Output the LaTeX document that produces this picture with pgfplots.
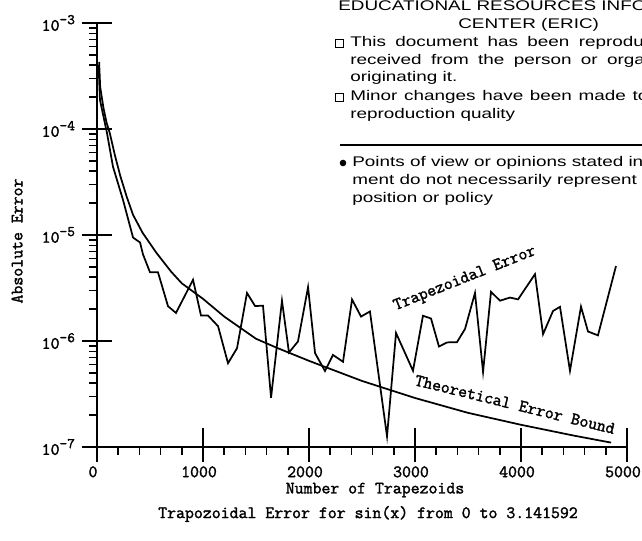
\documentclass[border=0pt]{standalone}
\usepackage{fontspec}
\usepackage{pgfplots}
\pgfplotsset{compat=1.18}
\newfontfamily\plotfont[FakeBold=1.8]{Latin Modern Mono}
\newfontfamily\ericfont[FakeStretch=1.35]{Liberation Sans}
\newcommand{\pf}{\plotfont\fontsize{13}{15}\selectfont}
\newcommand{\ef}{\ericfont\fontsize{10.5}{13}\selectfont}
\newcommand{\tl}[1]{\mbox{\pf #1}}
\newcommand{\dec}[1]{\mbox{\pf 10\raisebox{5pt}{\plotfont\fontsize{11}{11}\selectfont -#1}}}
\begin{document}
\begin{tikzpicture}
\begin{axis}[
  at={(72.75pt,70.5pt)}, anchor=south west,
  scale only axis, width=397.5pt, height=318pt,
  xmin=0, xmax=5000, ymin=1e-7, ymax=1e-3, ymode=log,
  axis x line=bottom, axis y line=left,
  axis line style={-, line width=1.3pt},
  tick style={black, line width=1.1pt},
  tick align=outside,
  major tick length=11pt, minor tick length=6pt,
  xtick={0,1000,2000,3000,4000,5000},
  xticklabels={\tl{0},\tl{1000},\tl{2000},\tl{3000},\tl{4000},\tl{5000}},
  minor xtick={200,400,600,800,1200,1400,1600,1800,2200,2400,2600,2800,3200,3400,3600,3800,4200,4400,4600,4800},
  ytick={1e-7,1e-6,1e-5,1e-4,1e-3},
  yticklabels={\dec{7},\dec{6},\dec{5},\dec{4},\dec{3}},
  minor ytick={2e-7,3e-7,4e-7,5e-7,6e-7,7e-7,8e-7,9e-7,2e-6,3e-6,4e-6,5e-6,6e-6,7e-6,8e-6,9e-6,2e-5,3e-5,4e-5,5e-5,6e-5,7e-5,8e-5,9e-5,2e-4,3e-4,4e-4,5e-4,6e-4,7e-4,8e-4,9e-4},
  extra x ticks={1000,2000,3000,4000,5000},
  extra x tick labels={},
  extra x tick style={tick align=inside, major tick length=14pt},
  extra y ticks={1e-7,1e-6,1e-5,1e-4,1e-3},
  extra y tick labels={},
  extra y tick style={tick align=inside, major tick length=11pt},
  tick label style={font=\pf},
  xticklabel style={xshift=-3pt},
  yticklabel style={xshift=-2pt},
  clip=false,
]
\addplot[black, line width=1.3pt, mark=none] coordinates {
(20,4.3e-4) (30,2.5e-4) (60,1.6e-4) (90,1.15e-4) (120,9.2e-5) (170,5.6e-5)
(220,3.6e-5) (280,2.3e-5) (340,1.55e-5) (430,1.05e-5) (560,6.8e-6) (700,4.5e-6)
(800,3.5e-6) (1000,2.5e-6) (1200,1.7e-6) (1500,1.05e-6) (1700,8.6e-7) (2000,6.5e-7)
(2500,4.2e-7) (3000,2.9e-7) (3500,2.1e-7) (4000,1.62e-7) (4500,1.28e-7) (4850,1.1e-7)
};
\addplot[black, line width=1.3pt, mark=none] coordinates {
(15,4.0e-4) (28,1.88e-4) (94,9.18e-5) (151,4.40e-5) (245,2.15e-5) (340,9.46e-6)
(406,8.51e-6) (434,6.56e-6) (500,4.45e-6) (575,4.46e-6) (670,2.13e-6) (745,1.84e-6)
(906,3.78e-6) (981,1.74e-6) (1047,1.74e-6) (1142,1.38e-6) (1236,6.17e-7) (1321,8.55e-7)
(1415,2.84e-6) (1491,2.14e-6) (1566,2.15e-6) (1642,2.92e-7) (1745,2.40e-6) (1811,7.79e-7)
(1896,9.9e-7) (1991,3.22e-6) (2057,7.69e-7) (2151,5.21e-7) (2226,7.39e-7) (2321,6.37e-7)
(2406,2.46e-6) (2491,1.70e-6) (2575,1.90e-6) (2736,1.26e-7) (2821,1.19e-6) (2981,5.24e-7)
(3075,1.73e-6) (3151,1.63e-6) (3226,8.87e-7) (3302,9.7e-7) (3396,9.75e-7) (3472,1.30e-6)
(3566,2.84e-6) (3642,5.11e-7) (3717,2.91e-6) (3802,2.40e-6) (3896,2.57e-6) (3972,2.47e-6)
(4132,4.27e-6) (4208,1.16e-6) (4302,1.92e-6) (4368,2.10e-6) (4462,5.24e-7) (4566,2.11e-6)
(4632,1.23e-6) (4726,1.13e-6) (4896,5.09e-6)
};
\node[font=\pf, rotate=21.7] at (axis cs:3472,3.84e-6) {Trapezoidal Error};
\node[font=\pf, rotate=-13.8] at (axis cs:3943,2.52e-7) {Theoretical Error Bound};
\end{axis}
\begin{scope}[x=0.75pt,y=0.75pt]
\node[font=\pf, rotate=90] at (17,300) {Absolute Error};
\node[font=\pf] at (375,51) {Number of Trapezoids};
\node[font=\pf] at (368,27) {Trapozoidal Error for sin(x) from 0 to 3.141592};
\begin{scope}[every node/.style={anchor=base west, inner sep=0pt, font=\ef}]
\node at (338,530) {EDUCATIONAL RESOURCES INFORMATION};
\node at (458,512) {CENTER (ERIC)};
\node at (350,494) {\spaceskip=7pt This document has been reproduced as};
\node at (350,476) {\spaceskip=7pt received from the person or organization};
\node at (350,459) {originating it.};
\node at (350,440) {\spaceskip=5pt Minor changes have been made to improve};
\node at (350,422) {reproduction quality};
\node at (352,374) {Points of view or opinions stated in this document};
\node at (352,356) {ment do not necessarily represent official NIE};
\node at (352,338) {position or policy};
\end{scope}
\draw[line width=0.6pt] (335,494) rectangle (343,502);
\draw[line width=0.6pt] (335,440) rectangle (343,448);
\draw[line width=0.8pt] (340,396) -- (650,396);
\fill (343,378) circle (3.3);
\end{scope}
\pgfresetboundingbox
\useasboundingbox (0,0) rectangle (481.5pt,405.75pt);
\end{tikzpicture}
\end{document}
